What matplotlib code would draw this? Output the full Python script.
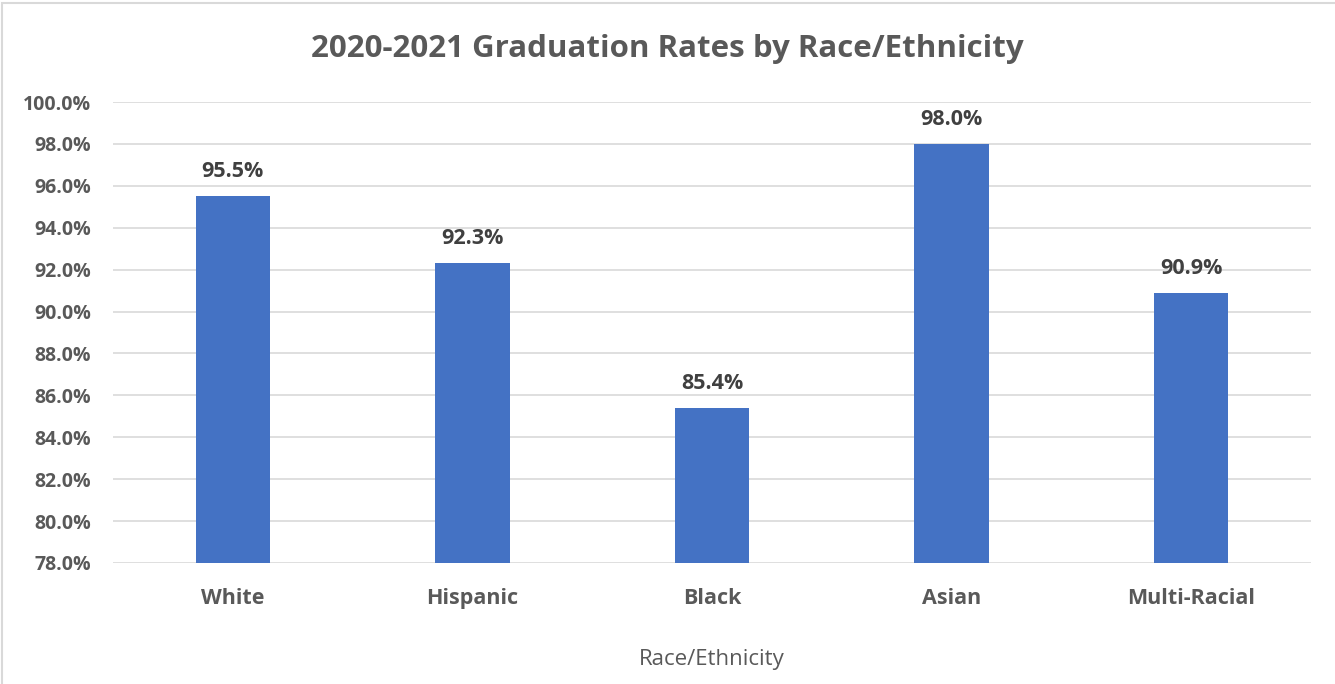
import matplotlib.pyplot as plt
from matplotlib.patches import Rectangle
from matplotlib.ticker import FuncFormatter, MultipleLocator

groups = ['White', 'Hispanic', 'Black', 'Asian', 'Multi-Racial']
rates = [95.5, 92.3, 85.4, 98.0, 90.9]

plt.rcParams['font.family'] = ['Open Sans', 'DejaVu Sans']

W, H = 1335, 684
fig = plt.figure(figsize=(W / 100, H / 100), dpi=100)
ax = fig.add_axes([113 / W, 1 - 563 / H, (1311 - 113) / W, (563 - 102) / H])

# chart frame (only top and left edge visible in the crop)
fig.patches.append(Rectangle((2 / W, -0.1), 1.2, 1 - 3 / H + 0.1, transform=fig.transFigure,
                             fill=False, edgecolor='#D9D9D9', linewidth=1.5))

x = range(len(groups))
ax.bar(x, rates, width=0.31, color='#4472C4', zorder=3)
for i, v in zip(x, rates):
    ax.text(i, v + 0.9, f'{v:.1f}%', ha='center', va='baseline', fontsize=15.5,
            fontweight='bold', color='#404040')

ax.set_ylim(78, 100)
ax.set_xlim(-0.5, len(groups) - 0.5)
ax.yaxis.set_major_locator(MultipleLocator(2))
ax.yaxis.set_major_formatter(FuncFormatter(lambda v, p: f'{v:.1f}%'))
ax.grid(axis='y', color='#D9D9D9', linewidth=1.2, zorder=0)
for s in ax.spines.values():
    s.set_visible(False)
ax.tick_params(axis='both', length=0, colors='#595959')
ax.tick_params(axis='y', pad=16)
ax.tick_params(axis='x', pad=18)
ax.set_xticks(list(x))
ax.set_xticklabels(groups)
for lab in ax.get_yticklabels():
    lab.set_fontsize(14)
    lab.set_fontweight('bold')
for lab in ax.get_xticklabels():
    lab.set_fontsize(15.5)
    lab.set_fontweight('bold')

ax.set_xlabel('Race/Ethnicity', fontsize=16, color='#595959', labelpad=29)
fig.text(0.5, 1 - 49 / H, '2020-2021 Graduation Rates by Race/Ethnicity', ha='center', va='center',
         fontsize=22.5, fontweight='bold', color='#595959')

fig.savefig('out.png', dpi=100, facecolor='white')
